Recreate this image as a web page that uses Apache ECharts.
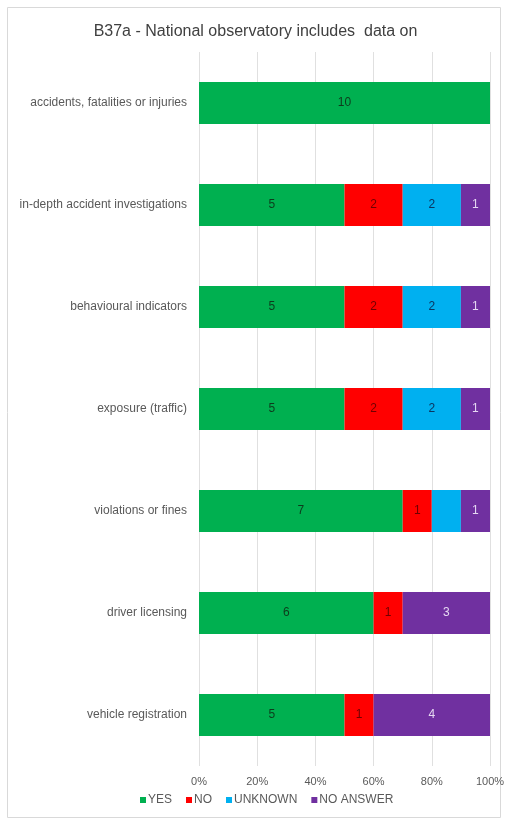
<!DOCTYPE html>
<html><head><meta charset="utf-8">
<script src="https://cdn.jsdelivr.net/npm/echarts@6/dist/echarts.min.js"></script>
<style>html,body{margin:0;padding:0;background:#fff}#c{width:511px;height:824px}</style>
</head><body><div id="c"></div>
<script>
const categories = ["accidents, fatalities or injuries","in-depth accident investigations","behavioural indicators","exposure (traffic)","violations or fines","driver licensing","vehicle registration"];
const yes = [10,5,5,5,7,6,5];
const no = [0,2,2,2,1,1,1];
const unknown = [0,2,2,2,1,0,0];
const noAnswer = [0,1,1,1,1,3,4];
const unknownShowLabel = [false,true,true,true,false,false,false];
const tickLabels = ["0%","20%","40%","60%","80%","100%"];

const chart = echarts.init(document.getElementById('c'), null, {renderer:'canvas'});
function mk(name, data, color, labelColor, showArr){
  return {
    name, type:'bar', stack:'t', barWidth:42,
    data: data.map((v,i)=>({value:v, label:{show: v>0 && (!showArr || showArr[i])}})),
    itemStyle:{color},
    label:{show:true, position:'inside', color:labelColor, fontSize:12, fontFamily:'Liberation Sans', formatter:p=>p.value},
    emphasis:{disabled:true}
  };
}
chart.setOption({
  animation:false,
  title:{text:'B37a - National observatory includes  data on', left:'center', top:19,
    textStyle:{fontFamily:'Liberation Sans', fontSize:16, fontWeight:'normal', color:'#404040'}},
  graphic:[{type:'rect', shape:{x:7.5,y:7.5,width:493,height:810}, style:{fill:'none', stroke:'#d9d9d9', lineWidth:1}, silent:true}],
  legend:{bottom:13, left:135, itemWidth:6, itemHeight:6, itemGap:14, icon:'rect',
    textStyle:{fontFamily:'Liberation Sans', fontSize:12, color:'#595959', padding:[0,0,0,-3]},
    data:['YES','NO','UNKNOWN','NO ANSWER']},
  grid:{left:199, right:21, top:52, bottom:58, containLabel:false},
  xAxis:{type:'value', min:0, max:10, interval:2,
    axisLine:{show:false}, axisTick:{show:false},
    splitLine:{lineStyle:{color:'#e0e0e0'}},
    axisLabel:{formatter:v=>tickLabels[v/2], color:'#595959', fontFamily:'Liberation Sans', fontSize:11, margin:10}},
  yAxis:{type:'category', data:categories, inverse:true,
    axisLine:{show:false}, axisTick:{show:false},
    axisLabel:{color:'#595959', fontFamily:'Liberation Sans', fontSize:12, margin:12}},
  series:[
    mk('YES', yes, '#00B050', '#0d3b1c'),
    mk('NO', no, '#FF0000', '#700000'),
    mk('UNKNOWN', unknown, '#00B0F0', '#0b3560', unknownShowLabel),
    mk('NO ANSWER', noAnswer, '#7030A0', '#e6d8f2')
  ]
});
</script></body></html>
